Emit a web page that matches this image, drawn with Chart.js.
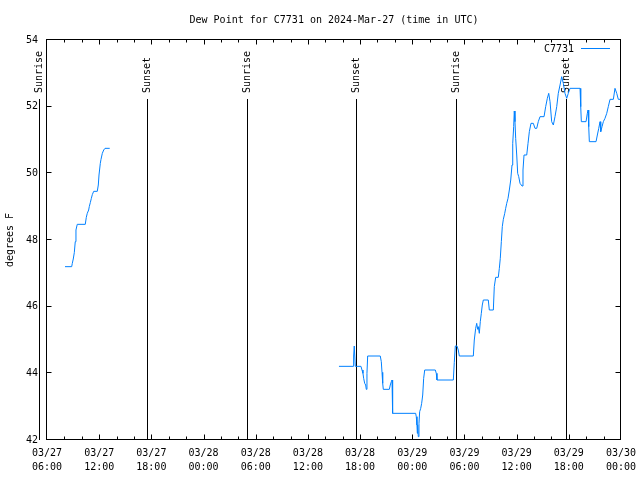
<!DOCTYPE html>
<html><head><meta charset="utf-8">
<script src="https://cdn.jsdelivr.net/npm/chart.js@4.4.0/dist/chart.umd.min.js"></script>
<style>html,body{margin:0;padding:0;background:#fff}canvas{display:block}</style>
</head><body>
<canvas id="c" width="640" height="480"></canvas>
<script>
// hours since 2024-03-27 00:00 UTC
const seriesLabel = 'C7731';
const chartTitle = 'Dew Point for C7731 on 2024-Mar-27 (time in UTC)';
const yAxisTitle = 'degrees F';
const hours = [
  8.07, 8.84, 8.91, 9.02, 9.14, 9.25, 9.33, 9.48, 10.40, 10.52, 10.63, 10.79, 10.86, 10.98, 11.09, 11.21, 11.37, 11.78, 11.90, 11.98, 12.13, 12.21, 12.36, 12.52, 12.67, 13.21,
  26.0,
  39.57, 41.22, 41.26, 41.33, 41.45, 42.10, 42.22, 42.33, 42.41, 42.53, 42.64, 42.71, 42.79, 42.87, 44.32, 44.44, 44.52, 44.60, 44.67, 45.36, 45.47, 45.59, 45.67, 45.70, 45.78,
  48.39, 48.46, 48.54, 48.58, 48.62, 48.69, 48.77, 48.85, 48.97, 49.08, 49.20, 49.31, 49.43, 50.65, 50.76, 50.84, 52.72, 52.83, 52.95, 53.14, 53.29, 53.41,
  55.02, 55.13, 55.29, 55.41, 55.52, 55.59, 55.71, 55.82, 55.94, 56.05, 56.17, 56.74, 56.86, 57.32, 57.43, 57.59, 57.89, 58.01, 58.12, 58.24, 58.35, 58.47, 58.63, 58.74, 58.86, 59.01, 59.16, 59.32,
  59.47, 59.55, 59.66, 59.73, 59.81, 59.89, 60.01, 60.12, 60.24, 60.39, 60.62, 60.73, 60.85, 61.16, 61.31, 61.46, 61.65, 61.92, 62.11, 62.31, 62.49, 62.69, 63.15, 63.34, 63.53, 63.69, 63.84,
  64.03, 64.22, 64.41, 64.61, 64.79, 64.99, 65.18, 65.37, 65.56, 65.76, 65.94, 66.14, 67.29, 67.37, 67.44, 67.98, 68.13, 68.21, 68.29, 68.36, 69.13, 69.28, 69.44, 69.59, 69.67, 69.82, 69.97,
  70.16, 70.36, 70.54, 70.74, 71.12, 71.31, 71.51, 71.69, 71.95
];
const dewPoint = [
  47.2, 47.2, 47.3, 47.43, 47.62, 47.95, 48.3, 48.47, 48.47, 48.68, 48.8, 48.9, 49.0, 49.12, 49.24, 49.36, 49.46, 49.46, 49.65, 49.95, 50.3, 50.42, 50.6, 50.7, 50.75, 50.75,
  null,
  44.21, 44.21, 44.52, 44.82, 44.21, 44.21, 44.10, 44.00, 43.85, 43.70, 43.65, 43.52, 44.00, 44.52, 44.52, 44.35, 44.03, 43.70, 43.52, 43.52, 43.65, 43.75, 43.80, 43.30, 42.80,
  42.80, 42.70, 42.45, 42.20, 42.45, 42.10, 42.50, 42.85, 42.95, 43.10, 43.35, 43.85, 44.10, 44.10, 44.00, 43.80, 43.80, 44.32, 44.82, 44.82, 44.70, 44.52,
  44.52, 45.00, 45.35, 45.50, 45.32, 45.40, 45.20, 45.55, 45.80, 46.05, 46.20, 46.20, 45.90, 45.90, 46.60, 46.88, 46.88, 47.15, 47.45, 47.95, 48.40, 48.62, 48.80, 48.95, 49.10, 49.25, 49.50, 49.80,
  50.25, 50.90, 51.40, 51.87, 51.55, 51.05, 50.55, 50.00, 49.90, 49.70, 49.62, 50.10, 50.55, 50.55, 50.90, 51.25, 51.50, 51.50, 51.35, 51.35, 51.55, 51.70, 51.70, 52.00, 52.25, 52.40, 52.15,
  51.55, 51.45, 51.70, 52.00, 52.40, 52.65, 52.90, 52.70, 52.40, 52.25, 52.40, 52.55, 52.55, 52.00, 51.55, 51.55, 51.80, 51.90, 51.40, 50.95, 50.95, 51.15, 51.35, 51.55, 51.25, 51.40, 51.55,
  51.65, 51.80, 52.00, 52.22, 52.22, 52.55, 52.40, 52.22, 52.22
];
const sunEventNames = ['Sunrise', 'Sunset', 'Sunrise', 'Sunset', 'Sunrise', 'Sunset'];
const sunEventHours = [5.07, 17.47, 29.03, 41.55, 53.05, 65.62];
const xTickHours = [6, 12, 18, 24, 30, 36, 42, 48, 54, 60, 66, 72];
const xTickLabels = [
  ['03/27', '06:00'], ['03/27', '12:00'], ['03/27', '18:00'], ['03/28', '00:00'],
  ['03/28', '06:00'], ['03/28', '12:00'], ['03/28', '18:00'], ['03/29', '00:00'],
  ['03/29', '06:00'], ['03/29', '12:00'], ['03/29', '18:00'], ['03/30', '00:00']
];
const yTicks = [42, 44, 46, 48, 50, 52, 54];

const FONT = "'DejaVu Sans Mono', monospace";
const LINE_COLOR = 'rgb(0,128,255)';

const framePlugin = {
  id: 'frame',
  beforeDatasetsDraw(chart) {
    const { ctx, chartArea: a, scales: { x, y } } = chart;
    ctx.save();
    ctx.strokeStyle = '#000';
    ctx.fillStyle = '#000';
    ctx.lineWidth = 1;
    ctx.font = '10px ' + FONT;
    const lineTop = y.getPixelForValue(52.23);
    const labelStart = y.getPixelForValue(52.41);
    sunEventHours.forEach((h, i) => {
      const px = Math.round(x.getPixelForValue(h)) + 0.5;
      ctx.beginPath();
      ctx.moveTo(px, lineTop);
      ctx.lineTo(px, a.bottom);
      ctx.stroke();
      ctx.save();
      ctx.translate(px, labelStart);
      ctx.rotate(-Math.PI / 2);
      ctx.textAlign = 'left';
      ctx.textBaseline = 'middle';
      ctx.fillText(sunEventNames[i], 0, 0);
      ctx.restore();
    });
    ctx.restore();
  },
  afterDatasetsDraw(chart) {
    const { ctx, chartArea: a, scales: { x, y } } = chart;
    ctx.save();
    ctx.strokeStyle = '#000';
    ctx.lineWidth = 1;
    const L = a.left - 0.5, R = a.right - 0.5, T = a.top - 0.5, B = a.bottom - 0.5;
    ctx.strokeRect(L, T, R - L, B - T);
    ctx.beginPath();
    for (let h = x.min; h <= x.max; h += 2) {
      const major = xTickHours.includes(h);
      const len = major ? 5 : 3;
      let px = Math.round(x.getPixelForValue(h)) + 0.5;
      if (px > R - 1.5) px = R;
      if (px < L + 1.5) px = L;
      ctx.moveTo(px, B); ctx.lineTo(px, B - len);
      ctx.moveTo(px, T); ctx.lineTo(px, T + len);
    }
    yTicks.forEach(v => {
      const py = Math.round(y.getPixelForValue(v)) - 0.5;
      ctx.moveTo(L, py); ctx.lineTo(L + 5, py);
      ctx.moveTo(R, py); ctx.lineTo(R - 5, py);
    });
    ctx.stroke();
    // legend
    const ly = y.getPixelForValue(54) + 9;
    ctx.font = '10px ' + FONT;
    ctx.fillStyle = '#000';
    ctx.textAlign = 'right';
    ctx.textBaseline = 'middle';
    ctx.fillText(chart.data.datasets[0].label, 574, ly);
    ctx.strokeStyle = LINE_COLOR;
    ctx.beginPath();
    ctx.moveTo(581, Math.round(ly) - 0.5);
    ctx.lineTo(610, Math.round(ly) - 0.5);
    ctx.stroke();
    ctx.restore();
  }
};

new Chart(document.getElementById('c'), {
  type: 'line',
  data: {
    datasets: [{
      label: seriesLabel,
      data: hours.map((h, i) => ({ x: h, y: dewPoint[i] })),
      borderColor: LINE_COLOR,
      backgroundColor: LINE_COLOR,
      borderWidth: 1,
      pointRadius: 0,
      tension: 0,
      fill: false,
      spanGaps: false
    }]
  },
  options: {
    responsive: false,
    animation: false,
    devicePixelRatio: 1,
    layout: { padding: { left: 0, right: 19, top: 0, bottom: 0 } },
    plugins: {
      legend: { display: false },
      tooltip: { enabled: false },
      title: {
        display: true,
        text: chartTitle,
        fullSize: false,
        color: '#000',
        font: { family: FONT, size: 10, weight: 'normal', lineHeight: 1.2 },
        padding: { top: 14, bottom: 14 }
      }
    },
    scales: {
      x: {
        type: 'linear',
        min: 6,
        max: 72,
        afterFit(s) { s.height = 40; s.paddingLeft = 0; s.paddingRight = 0; },
        grid: { display: false, drawTicks: false },
        border: { display: false },
        ticks: {
          stepSize: 6,
          autoSkip: false,
          maxRotation: 0,
          padding: 7,
          color: '#000',
          font: { family: FONT, size: 10, lineHeight: 1.35 },
          callback: (v) => { const i = xTickHours.indexOf(v); return i >= 0 ? xTickLabels[i] : ''; }
        }
      },
      y: {
        min: 42,
        max: 54,
        afterFit(s) { s.width = 47; s.paddingTop = 0; s.paddingBottom = 0; },
        grid: { display: false, drawTicks: false },
        border: { display: false },
        title: {
          display: true,
          text: yAxisTitle,
          color: '#000',
          font: { family: FONT, size: 10, lineHeight: 1.2 },
          padding: { top: 4, bottom: 0 }
        },
        ticks: {
          stepSize: 2,
          padding: 9,
          color: '#000',
          font: { family: FONT, size: 10 },
          callback: (v) => yTicks.includes(v) ? String(v) : ''
        }
      }
    }
  },
  plugins: [framePlugin]
});
</script>
</body></html>
